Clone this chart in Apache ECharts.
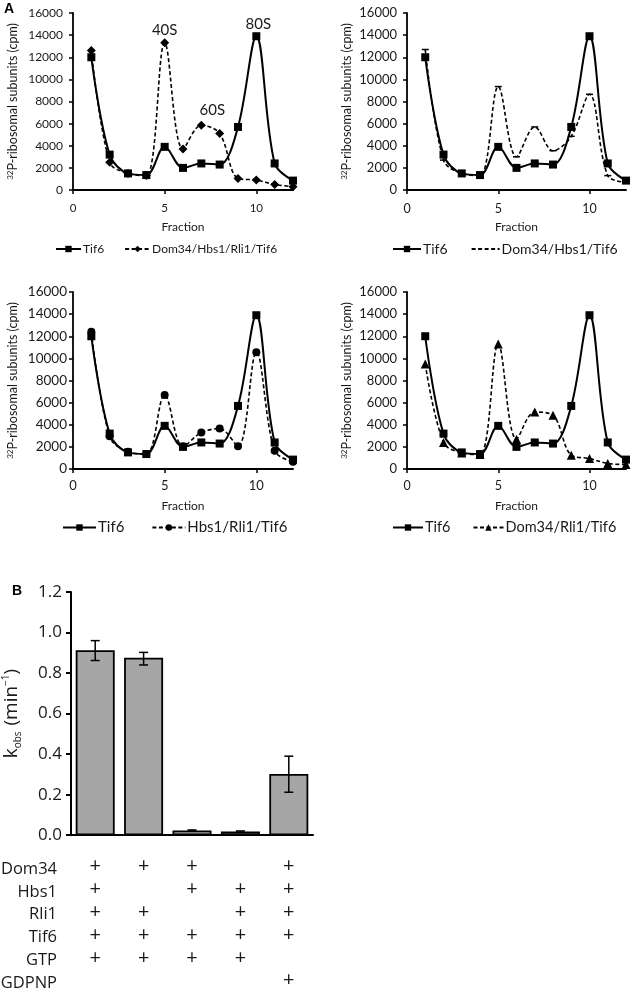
<!DOCTYPE html>
<html><head><meta charset="utf-8">
<script src="https://cdn.jsdelivr.net/npm/echarts@6/dist/echarts.min.js"></script>
<style>html,body{margin:0;padding:0;background:#fff}#c{width:631px;height:992px}</style>
</head><body><div id="c"></div>
<script>
// ---------- Panel A data (fractions 1..12, cpm) ----------
const fractions = [1,2,3,4,5,6,7,8,9,10,11,12];
const tif6 = [12000,3200,1500,1350,3900,2000,2400,2300,5700,13900,2400,850];
const dom34Hbs1Rli1Tif6 = [12600,2500,1500,1300,13300,3700,5850,5100,1050,900,500,300];
const dom34Hbs1Tif6 = [12700,2700,1500,1300,9350,3000,5700,3550,4850,8650,1300,700];
const hbs1Rli1Tif6 = [12400,2950,1550,1350,6700,2050,3300,3650,2050,10550,1650,650];
const dom34Rli1Tif6 = [9500,2400,1450,1300,11300,2700,5150,4850,1250,950,500,400];
const xTicksA = [0,5,10];
const peakLabels = ['40S','60S','80S'];

// ---------- Panel B data ----------
const barCategories = ['1','2','3','4','5'];
const kobs = [0.913,0.876,0.023,0.018,0.302];
const kobsLow = [0.862,0.840,0.020,0.015,0.212];
const kobsHigh = [0.960,0.902,0.026,0.021,0.390];
const conditionRows = ['Dom34','Hbs1','Rli1','Tif6','GTP','GDPNP'];
const condDom34 = [1,1,1,0,1];
const condHbs1  = [1,0,1,1,1];
const condRli1  = [1,1,0,1,1];
const condTif6  = [1,1,1,1,1];
const condGTP   = [1,1,1,1,0];
const condGDPNP = [0,0,0,0,1];
const conditions = [condDom34,condHbs1,condRli1,condTif6,condGTP,condGDPNP];

const FA = 'Lato', FB = 'Open Sans';
const TXT = '#1a1a1a';

const panels = [
  {data: dom34Hbs1Rli1Tif6, name: 'Dom34/Hbs1/Rli1/Tif6', symbol: 'diamond', symbolSize: 9,
   left: 73, top: 13, width: 220, lf: 12, lm: 10, xm: 12, legendLeft: 55, legendTop: 243, legendFont: 12, iconW: 25, gap: 20},
  {data: dom34Hbs1Tif6, name: 'Dom34/Hbs1/Tif6', symbol: 'rect', symbolSize: [7,1.5],
   left: 407, top: 13, width: 219, lf: 13, lm: 10, xm: 12, legendLeft: 392, legendTop: 242, legendFont: 14, iconW: 28, gap: 23},
  {data: hbs1Rli1Tif6, name: 'Hbs1/Rli1/Tif6', symbol: 'circle', symbolSize: 8,
   left: 73, top: 292, width: 220, lf: 13.5, lm: 6, xm: 10, legendLeft: 62, legendTop: 520, legendFont: 15, iconW: 33, gap: 27},
  {data: dom34Rli1Tif6, name: 'Dom34/Rli1/Tif6', symbol: 'triangle', symbolSize: 9,
   left: 407, top: 292, width: 219, lf: 13, lm: 10, xm: 10, legendLeft: 392, legendTop: 520, legendFont: 14.5, iconW: 30, gap: 22},
];

const grid = [], xAxis = [], yAxis = [], series = [], legend = [];
const axisLineA = {show: true, lineStyle: {color: '#000', width: 1.8}};

panels.forEach((p, i) => {
  grid.push({left: p.left, top: p.top, width: p.width, height: 177, containLabel: false});
  xAxis.push({
    type: 'value', gridIndex: i, min: 0, max: 12, interval: 5,
    axisLine: Object.assign({onZero: false}, axisLineA),
    axisTick: {show: true, length: 4, inside: false, customValues: xTicksA, lineStyle: {color: '#000', width: 1.5}},
    axisLabel: {customValues: xTicksA, fontFamily: FA, fontSize: p.lf - 0.5, color: TXT, margin: p.xm},
    splitLine: {show: false},
    name: 'Fraction', nameLocation: 'middle', nameGap: 31,
    nameTextStyle: {fontFamily: FA, fontSize: 12, color: TXT}
  });
  yAxis.push({
    type: 'value', gridIndex: i, min: 0, max: 16000, interval: 2000,
    axisLine: axisLineA,
    axisTick: {show: true, length: 4, lineStyle: {color: '#000', width: 1.5}},
    axisLabel: {fontFamily: FA, fontSize: p.lf, color: TXT, margin: p.lm, formatter: v => String(v)},
    splitLine: {show: false},
    name: '{sup|32}{n|P-ribosomal subunits (cpm)}', nameLocation: 'middle', nameGap: 53,
    nameTextStyle: {fontFamily: FA, color: TXT, rich: {
      sup: {fontFamily: FA, fontSize: 8, color: TXT, verticalAlign: 'top', lineHeight: 14},
      n: {fontFamily: FA, fontSize: 12.5, color: TXT, lineHeight: 14}
    }}
  });
  const tifSeries = {
    type: 'line', name: 'Tif6', xAxisIndex: i, yAxisIndex: i,
    data: fractions.map((f, k) => [f, tif6[k]]),
    smooth: 0.35, symbol: 'rect', symbolSize: 8,
    lineStyle: {color: '#000', width: 2}, itemStyle: {color: '#000'},
    z: 3, animation: false
  };
  const otherSeries = {
    type: 'line', name: p.name, xAxisIndex: i, yAxisIndex: i,
    data: fractions.map((f, k) => [f, p.data[k]]),
    smooth: 0.35, symbol: p.symbol, symbolSize: p.symbolSize,
    lineStyle: {color: '#000', width: 1.6, type: [4, 2.5]}, itemStyle: {color: '#000'},
    z: 2, animation: false
  };
  if (i === 0) {
    const mpLabel = {show: true, position: 'top', formatter: '{b}', fontFamily: FA, fontSize: 15, color: TXT};
    otherSeries.markPoint = {
      symbol: 'circle', symbolSize: 0, animation: false,
      data: [
        {name: peakLabels[0], coord: [fractions[4], dom34Hbs1Rli1Tif6[4]], label: Object.assign({}, mpLabel, {distance: 5})},
        {name: peakLabels[1], coord: [fractions[6], dom34Hbs1Rli1Tif6[6]], label: Object.assign({}, mpLabel, {distance: 8, offset: [11, 0]})}
      ]
    };
    tifSeries.markPoint = {
      symbol: 'circle', symbolSize: 0, animation: false,
      data: [{name: peakLabels[2], coord: [fractions[9], tif6[9]], label: Object.assign({}, mpLabel, {distance: 5, offset: [2, 0]})}]
    };
  }
  series.push(tifSeries, otherSeries);
  const otherLegend = i === 1 ? {name: p.name, itemStyle: {opacity: 0}} : {name: p.name};
  legend.push({
    data: ['Tif6', otherLegend], left: p.legendLeft, top: p.legendTop, width: 260, padding: 0,
    itemWidth: p.iconW, itemHeight: 8, itemGap: p.gap, selectedMode: false,
    textStyle: {fontFamily: FA, fontSize: p.legendFont, color: TXT, padding: [0, 0, 0, -3]}
  });
});

// ---------- Panel B ----------
grid.push({left: 68, top: 592, width: 245, height: 247});
xAxis.push({
  type: 'category', gridIndex: 4, data: barCategories,
  axisLine: {show: true, lineStyle: {color: '#000', width: 2}},
  axisTick: {show: false},
  axisLabel: {
    interval: 0, margin: 20, fontFamily: FB, fontSize: 20, color: TXT, lineHeight: 22.8,
    formatter: (v, idx) => conditions.map(c => c[idx] ? '+' : ' ').join('\n')
  }
});
yAxis.push({
  type: 'value', gridIndex: 4, min: 0, max: 1.2, interval: 0.2,
  axisLine: {show: true, lineStyle: {color: '#000', width: 2}},
  axisTick: {show: true, length: 5, lineStyle: {color: '#000', width: 2}},
  axisLabel: {fontFamily: FB, fontSize: 17, color: TXT, margin: 9, formatter: v => v.toFixed(1)},
  splitLine: {show: false},
  name: '{k|k}{sub|obs}{n| (min}{sup|−1}{n|)}', nameLocation: 'middle', nameGap: 48,
  nameTextStyle: {fontFamily: FB, color: TXT, rich: {
    k: {fontFamily: FB, fontSize: 19, color: TXT, lineHeight: 22},
    n: {fontFamily: FB, fontSize: 19, color: TXT, lineHeight: 22},
    sub: {fontFamily: FB, fontSize: 10, color: TXT, verticalAlign: 'bottom', lineHeight: 22, padding: [0, 1, 0, 0]},
    sup: {fontFamily: FB, fontSize: 10, color: TXT, verticalAlign: 'top', lineHeight: 22}
  }}
});
series.push({
  type: 'bar', xAxisIndex: 4, yAxisIndex: 4, data: kobs, barWidth: 39,
  itemStyle: {color: '#a6a6a6', borderColor: '#000', borderWidth: 1.8}, animation: false
});
series.push({
  type: 'custom', xAxisIndex: 4, yAxisIndex: 4, z: 5, animation: false,
  data: kobs.map((v, i) => [i, kobsLow[i], kobsHigh[i]]),
  renderItem: (params, api) => {
    const x = api.value(0);
    const lo = api.coord([x, api.value(1)]);
    const hi = api.coord([x, api.value(2)]);
    const cap = 4.5;
    const st = {stroke: '#000', lineWidth: 1.5};
    return {type: 'group', children: [
      {type: 'line', shape: {x1: lo[0], y1: lo[1], x2: hi[0], y2: hi[1]}, style: st},
      {type: 'line', shape: {x1: hi[0] - cap, y1: hi[1], x2: hi[0] + cap, y2: hi[1]}, style: st},
      {type: 'line', shape: {x1: lo[0] - cap, y1: lo[1], x2: lo[0] + cap, y2: lo[1]}, style: st}
    ]};
  }
});

const graphic = [
  {type: 'text', left: 4, top: 2, style: {text: 'A', font: 'bold 14px "Liberation Sans"', fill: '#000'}},
  {type: 'text', left: 12, top: 584, style: {text: 'B', font: 'bold 14px "Liberation Sans"', fill: '#000'}}
];
conditionRows.forEach((r, i) => {
  graphic.push({type: 'text', x: 57, y: 869 + i * 22.8,
    style: {text: r, font: '16.5px "Open Sans"', fill: TXT, align: 'right', verticalAlign: 'middle'}});
});

const chart = echarts.init(document.getElementById('c'));
chart.setOption({
  backgroundColor: '#fff', animation: false,
  grid, xAxis, yAxis, series, legend, graphic
});
</script></body></html>
